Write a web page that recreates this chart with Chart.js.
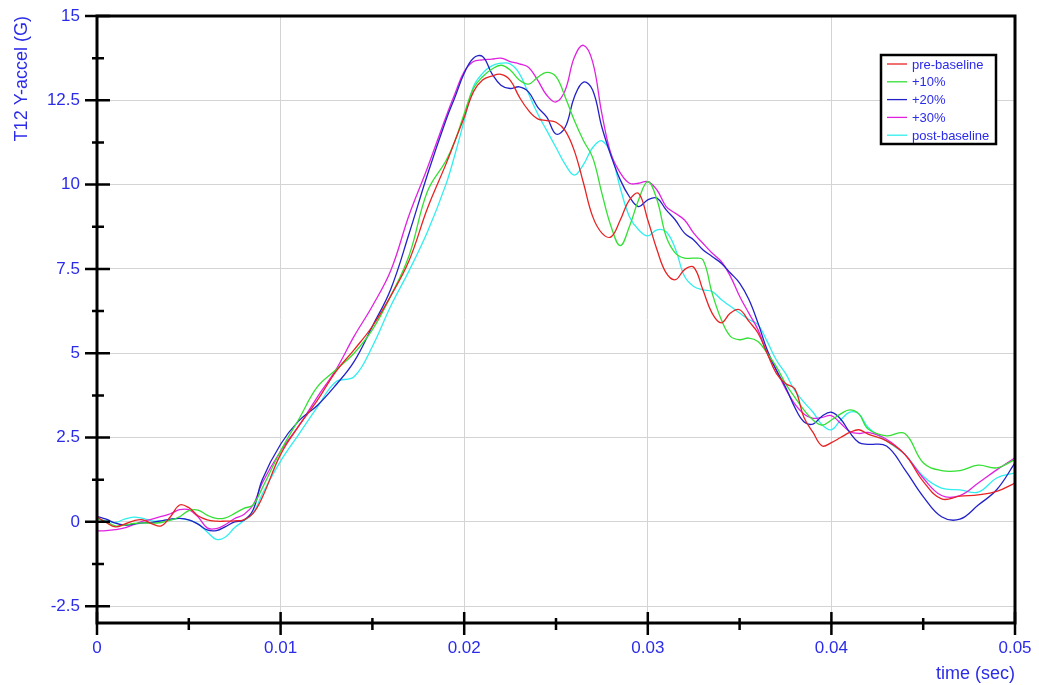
<!DOCTYPE html>
<html>
<head>
<meta charset="utf-8">
<title>T12 Y-accel</title>
<script src="https://cdn.jsdelivr.net/npm/chart.js@4.4.1/dist/chart.umd.min.js"></script>
<style>
  html,
  body {
    margin: 0;
    padding: 0;
    background: #fff;
  }
  #wrapper {
    width: 1039px;
    height: 685px;
  }
</style>
</head>
<body>
<div id="wrapper"><canvas id="myChart" width="1039" height="685"></canvas></div>
<script>
// tiempos de muestreo (seg)
const tiempos = [
  0, 0.0005, 0.001, 0.0015, 0.002, 0.0025, 0.003, 0.0035, 0.004, 0.0045,
  0.005, 0.0055, 0.006, 0.0065, 0.007, 0.0075, 0.008, 0.0085, 0.009,
  0.01, 0.011, 0.012, 0.013, 0.014, 0.015, 0.016, 0.017, 0.018, 0.019,
  0.0195, 0.02, 0.0205, 0.021, 0.0215, 0.022, 0.0225, 0.023, 0.0235, 0.024,
  0.0245, 0.025, 0.0255, 0.026, 0.0265, 0.027, 0.0275, 0.028, 0.0285, 0.029,
  0.0295, 0.03, 0.0305, 0.031, 0.0315, 0.032, 0.0325, 0.033, 0.0335, 0.034,
  0.0345, 0.035, 0.0355, 0.036, 0.0365, 0.037, 0.0375, 0.038, 0.0385, 0.039,
  0.0395, 0.04, 0.0405, 0.041, 0.0415, 0.042,
  0.043, 0.044, 0.045, 0.046, 0.047, 0.048, 0.049, 0.05,
];

// aceleracion Y en T12 (G) por ensayo
const preBaseline = [
  0.15, -0.02, -0.15, -0.07, 0.03, 0.06, -0.06, -0.12, 0.15, 0.5,
  0.42, 0.18, 0.06, 0.02, 0.02, 0.03, 0.06, 0.25, 0.72,
  2.0, 2.85, 3.6, 4.45, 5.1, 5.8, 6.7, 7.75, 9.3, 10.6,
  11.3, 12.0, 12.75, 13.1, 13.22, 13.27, 13.1, 12.6, 12.2, 11.95,
  11.9, 11.85, 11.6, 11.0, 10.04, 9.05, 8.56, 8.45, 8.95, 9.55,
  9.74, 8.95, 8.07, 7.38, 7.18, 7.48, 7.55, 6.88, 6.19, 5.9,
  6.19, 6.29, 5.95, 5.6, 5.0, 4.4, 4.1, 3.95, 3.1, 2.65,
  2.25, 2.35, 2.5, 2.65, 2.73, 2.6,
  2.4, 2.0, 1.2, 0.68, 0.76, 0.8, 0.9, 1.15,
];
const mas10 = [
  0.1, 0.0, -0.12, -0.1, -0.05, -0.03, -0.04, -0.02, 0.05, 0.15,
  0.33, 0.35, 0.2, 0.1, 0.12, 0.25, 0.4, 0.5, 1.0,
  2.1, 3.05, 4.0, 4.5, 5.0, 5.7, 6.7, 7.9, 9.8, 10.7,
  11.3, 12.1, 12.85, 13.2, 13.42, 13.54, 13.4, 13.1, 12.98, 13.18,
  13.33, 13.2, 12.6, 11.9, 11.3, 10.8, 9.74, 8.76, 8.19, 8.76,
  9.55, 10.09, 9.55, 8.46, 7.97, 7.82, 7.82, 7.77, 6.79, 6.0,
  5.5, 5.4, 5.45, 5.35, 5.0, 4.6, 4.1, 3.7, 3.32, 3.02,
  2.87, 3.02, 3.2, 3.32, 3.2, 2.75,
  2.55, 2.62, 1.75, 1.52, 1.52, 1.68, 1.6, 1.85,
];
const mas20 = [
  0.16, 0.08, -0.04, -0.1, -0.07, -0.03, -0.02, 0.03, 0.08, 0.1,
  0.06, -0.07, -0.24, -0.26, -0.14, 0.0, 0.05, 0.35, 1.25,
  2.3, 3.0, 3.45, 4.05, 4.75, 5.8, 6.9, 8.55, 10.3, 11.9,
  12.6, 13.3, 13.75, 13.8, 13.3, 12.95, 12.85, 12.9, 12.75, 12.3,
  12.0, 11.5, 11.7, 12.6, 13.04, 12.8, 11.7, 10.85, 10.14, 9.64,
  9.35, 9.55, 9.6, 9.25, 8.95, 8.56, 8.36, 8.07, 7.87, 7.67,
  7.38, 7.08, 6.6, 5.9, 5.1, 4.5, 4.0, 3.4, 2.97, 2.9,
  3.14, 3.25, 3.05, 2.65, 2.35, 2.3,
  2.25, 1.55, 0.75, 0.15, 0.08, 0.5, 0.95, 1.75,
];
const mas30 = [
  -0.27, -0.26, -0.23, -0.18, -0.08, 0.02, 0.08, 0.16, 0.24, 0.36,
  0.36, 0.15, -0.18, -0.2, -0.08, 0.1, 0.22, 0.5, 1.15,
  2.1, 2.85, 3.7, 4.5, 5.5, 6.4, 7.45, 9.1, 10.5, 12.0,
  12.7, 13.35, 13.65, 13.7, 13.72, 13.75, 13.65, 13.58, 13.48, 13.1,
  12.65, 12.45, 12.8, 13.78, 14.13, 13.63, 12.1, 10.9, 10.35, 10.04,
  10.04, 10.09, 9.84, 9.35, 9.15, 8.95, 8.56, 8.26, 7.97, 7.72,
  7.28, 6.69, 6.19, 5.7, 5.0, 4.5, 3.95, 3.5, 3.2, 3.07,
  3.1, 3.15, 2.92, 2.68, 2.62, 2.65,
  2.45, 2.0, 1.3, 0.78, 0.78, 1.15, 1.54, 1.9,
];
const postBaseline = [
  0.08, 0.03, -0.02, 0.08, 0.14, 0.1, 0.03, 0.03, 0.06, 0.1,
  0.05, -0.06, -0.3, -0.52, -0.45, -0.17, 0.03, 0.25, 0.82,
  1.8, 2.6, 3.4, 4.15, 4.3, 5.2, 6.4, 7.45, 8.6, 10.0,
  10.9, 11.9, 12.9, 13.3, 13.52, 13.6, 13.58, 13.3, 12.7, 12.1,
  11.6, 11.1, 10.6, 10.28, 10.6, 11.1, 11.3, 10.9, 9.9, 9.05,
  8.66, 8.48, 8.66, 8.6, 8.1, 7.28, 6.98, 6.88, 6.83, 6.59,
  6.39, 6.19, 6.0, 5.85, 5.35, 4.8, 4.4, 3.9, 3.55, 3.25,
  2.87, 2.73, 3.02, 3.25, 3.2, 2.8,
  2.4, 2.0, 1.35, 1.0, 0.95, 0.88, 1.3, 1.45,
];

const etiquetasSeries = ["pre-baseline", "+10%", "+20%", "+30%", "post-baseline"];
const coloresSeries = ["#e82222", "#33e033", "#2222c8", "#e022e0", "#30eeee"];

const ticksX = [0, 0.01, 0.02, 0.03, 0.04, 0.05];
const ticksXMenores = [0.005, 0.015, 0.025, 0.035, 0.045];
const ticksY = [-2.5, 0, 2.5, 5, 7.5, 10, 12.5, 15];
const ticksYMenores = [-1.25, 1.25, 3.75, 6.25, 8.75, 11.25, 13.75];

const azul = "#2b2bea";
const fuente = "'Liberation Sans', Arial, sans-serif";

const armarSerie = (valores) => tiempos.map((t, i) => ({ x: t, y: valores[i] }));

//marco negro y marcas de los ejes
const marcoEjes = {
  id: "marcoEjes",
  afterDatasetsDraw: (chart) => {
    const { ctx, chartArea, scales } = chart;
    const { left, right, top, bottom } = chartArea;
    ctx.save();
    ctx.strokeStyle = "#000";
    ctx.lineWidth = 3;
    ctx.beginPath();
    ctx.moveTo(left - 1.5, top);
    ctx.lineTo(right + 1.5, top);
    ctx.moveTo(right, top);
    ctx.lineTo(right, bottom);
    ctx.moveTo(left - 1.5, bottom);
    ctx.lineTo(right + 1.5, bottom);
    ctx.moveTo(left, top);
    ctx.lineTo(left, bottom);
    ctx.stroke();

    ctx.lineWidth = 2.5;
    ctx.beginPath();
    ticksX.forEach((v) => {
      const px = scales.x.getPixelForValue(v);
      ctx.moveTo(px, bottom - 11);
      ctx.lineTo(px, bottom + 12);
    });
    ticksXMenores.forEach((v) => {
      const px = scales.x.getPixelForValue(v);
      ctx.moveTo(px, bottom - 5);
      ctx.lineTo(px, bottom + 7);
    });
    ticksY.forEach((v) => {
      const py = scales.y.getPixelForValue(v);
      ctx.moveTo(left - 12, py);
      ctx.lineTo(left + 13, py);
    });
    ticksYMenores.forEach((v) => {
      const py = scales.y.getPixelForValue(v);
      ctx.moveTo(left - 5, py);
      ctx.lineTo(left + 7, py);
    });
    ctx.stroke();
    ctx.restore();
  },
};

//leyenda con recuadro dentro del grafico
const leyendaCaja = {
  id: "leyendaCaja",
  afterDraw: (chart) => {
    const { ctx } = chart;
    const x0 = 881;
    const y0 = 55;
    const ancho = 115;
    const alto = 89;
    ctx.save();
    ctx.fillStyle = "#fff";
    ctx.fillRect(x0, y0, ancho, alto);
    ctx.strokeStyle = "#000";
    ctx.lineWidth = 2.5;
    ctx.strokeRect(x0, y0, ancho, alto);
    ctx.font = `13px ${fuente}`;
    ctx.textBaseline = "middle";
    chart.data.datasets.forEach((ds, i) => {
      const fila = y0 + 9 + i * 17.8;
      ctx.strokeStyle = ds.borderColor;
      ctx.lineWidth = 1.3;
      ctx.beginPath();
      ctx.moveTo(x0 + 6, fila);
      ctx.lineTo(x0 + 26, fila);
      ctx.stroke();
      ctx.fillStyle = azul;
      ctx.fillText(ds.label, x0 + 31, fila + 1);
    });
    ctx.restore();
  },
};

const data = {
  datasets: [preBaseline, mas10, mas20, mas30, postBaseline].map((valores, i) => ({
    label: etiquetasSeries[i],
    data: armarSerie(valores),
    borderColor: coloresSeries[i],
    backgroundColor: coloresSeries[i],
    borderWidth: 1.3,
    pointRadius: 0,
    tension: 0.4,
    fill: false,
  })),
};

const config = {
  type: "line",
  data,
  options: {
    responsive: false,
    animation: false,
    layout: { padding: { left: 0, top: 16, right: 24, bottom: 0 } },
    plugins: {
      legend: { display: false },
      tooltip: { enabled: false },
    },
    scales: {
      x: {
        type: "linear",
        min: 0,
        max: 0.05,
        afterBuildTicks: (escala) => {
          escala.ticks = ticksX.map((v) => ({ value: v }));
        },
        afterFit: (escala) => {
          escala.height = 62;
          escala.paddingLeft = 0;
          escala.paddingRight = 0;
        },
        border: { display: false },
        grid: {
          drawTicks: false,
          lineWidth: 1,
          color: (c) =>
            c.index === 0 || c.index === ticksX.length - 1 ? "rgba(0,0,0,0)" : "#d4d4d4",
        },
        ticks: {
          color: azul,
          font: { family: fuente, size: 17 },
          padding: 15,
          maxRotation: 0,
          autoSkip: false,
          callback: (v) => String(v),
        },
        title: {
          display: true,
          text: "time (sec)",
          align: "end",
          color: azul,
          font: { family: fuente, size: 18 },
          padding: { top: 4, bottom: 0 },
        },
      },
      y: {
        type: "linear",
        min: -3,
        max: 15,
        afterBuildTicks: (escala) => {
          escala.ticks = ticksY.map((v) => ({ value: v }));
        },
        afterFit: (escala) => {
          escala.width = 97;
          escala.paddingTop = 0;
          escala.paddingBottom = 0;
        },
        border: { display: false },
        grid: {
          drawTicks: false,
          lineWidth: 1,
          color: (c) => (c.index === ticksY.length - 1 ? "rgba(0,0,0,0)" : "#d4d4d4"),
        },
        ticks: {
          color: azul,
          font: { family: fuente, size: 17 },
          padding: 17,
          autoSkip: false,
          callback: (v) => String(v),
        },
        title: {
          display: true,
          text: "T12 Y-accel (G)",
          align: "end",
          color: azul,
          font: { family: fuente, size: 18 },
          padding: { top: 11, bottom: 0 },
        },
      },
    },
  },
  plugins: [marcoEjes, leyendaCaja],
};

const myChart = new Chart(document.getElementById("myChart"), config);
</script>
</body>
</html>
